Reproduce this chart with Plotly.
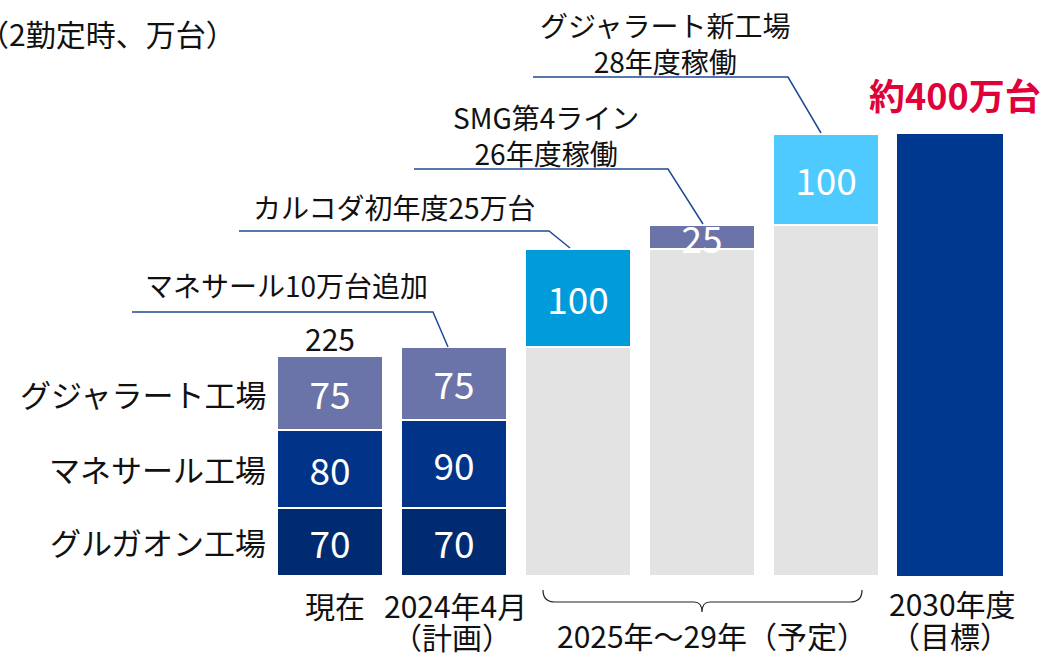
import plotly.graph_objects as go

W, H = 1045, 653
FONT = "Noto Sans CJK JP"

# ---- data (万台, 2勤定時) ----
current_x = [0, 1]
current_names = ["グルガオン工場", "マネサール工場", "グジャラート工場"]
gurgaon = [70, 70]
manesar = [80, 90]
gujarat = [75, 75]

future_x = [2, 3, 4]
future_base = [235, 335, 360]
future_add = [100, 25, 93]
future_add_labels = ["100", "25", "100"]

target_x = [5]
target_2030 = [453]
target_label = "約400万台"

callouts = [
    "マネサール10万台追加",
    "カルコダ初年度25万台",
    "SMG第4ライン<br>26年度稼働",
    "グジャラート新工場<br>28年度稼働",
]

# ---- colours ----
C_GURGAON = "#012B70"
C_MANESAR = "#013388"
C_GUJARAT = "#6B74A8"
C_GRAY = "#E3E3E3"
C_ADD = ["#009BDA", "#6B74A8", "#4FCAFF"]
C_TARGET = "#00388F"
C_LINE = "#1F4A96"

# pixel helpers (the plot area fills the whole page)
X0, STEP = 330, 124
Y0, PX_PER_UNIT = 576, 0.976


def px(x):
    return x / W


def py(y):
    return 1 - y / H


bar_w = 106 / STEP
seg_line = dict(color="white", width=2)
seg_text = dict(color="white", size=37, family=FONT)

fig = go.Figure()

for vals, col in [(gurgaon, C_GURGAON), (manesar, C_MANESAR), (gujarat, C_GUJARAT)]:
    fig.add_trace(go.Bar(
        x=current_x, y=vals, width=bar_w,
        marker=dict(color=col, line=seg_line),
        text=[str(v) for v in vals], textposition="inside",
        insidetextanchor="middle", textangle=0, constraintext="none",
        textfont=seg_text, hoverinfo="skip",
    ))

fig.add_trace(go.Bar(
    x=future_x, y=future_base, width=bar_w,
    marker=dict(color=C_GRAY, line=seg_line), hoverinfo="skip",
))
fig.add_trace(go.Bar(
    x=future_x, y=future_add, width=bar_w,
    marker=dict(color=C_ADD, line=seg_line),
    text=future_add_labels, textposition="inside",
    insidetextanchor="middle", textangle=0, constraintext="none",
    textfont=seg_text, hoverinfo="skip",
))
fig.add_trace(go.Bar(
    x=target_x, y=target_2030, width=bar_w,
    marker=dict(color=C_TARGET, line=dict(width=0)), hoverinfo="skip",
))

ann = []

# unit note (cut off at the left edge, like the source slide)
ann.append(dict(text="（2勤定時、万台）", x=px(238), y=py(33), xref="paper", yref="paper",
                xanchor="right", yanchor="middle", showarrow=False,
                font=dict(size=30, color="#111", family=FONT)))

# factory row labels, aligned to the middle of each segment of the first bar
mids = []
acc = 0
for vals in (gurgaon, manesar, gujarat):
    mids.append(acc + vals[0] / 2)
    acc += vals[0]
for name, m in zip(current_names, mids):
    ann.append(dict(text=name, x=px(268), y=m, xref="paper", yref="y",
                    xanchor="right", yanchor="middle", showarrow=False,
                    font=dict(size=31, color="#111", family=FONT)))

# total on the first bar
ann.append(dict(text=str(gurgaon[0] + manesar[0] + gujarat[0]), x=current_x[0],
                y=gurgaon[0] + manesar[0] + gujarat[0], xref="x", yref="y",
                yanchor="bottom", yshift=-6, showarrow=False,
                font=dict(size=30, color="#111", family=FONT)))

# target label
ann.append(dict(text=f"<b>{target_label}</b>", x=px(955), y=py(94), xref="paper", yref="paper",
                xanchor="center", yanchor="middle", showarrow=False,
                font=dict(size=36, color="#E0003A", family=FONT)))

# callout texts
callout_pos = [(286, 285), (394, 207), (546, 135), (665, 43)]
for txt, (cx, cy) in zip(callouts, callout_pos):
    ann.append(dict(text=txt, x=px(cx), y=py(cy), xref="paper", yref="paper",
                    xanchor="center", yanchor="middle", showarrow=False,
                    font=dict(size=28, color="#111", family=FONT)))

# category labels under the bars
bottom = [
    ("現在", 335, 605), ("2024年4月", 455, 605), ("（計画）", 452, 636),
    ("2025年〜29年（予定）", 712, 635), ("2030年度", 952, 603), ("（目標）", 950, 635),
]
for txt, cx, cy in bottom:
    ann.append(dict(text=txt, x=px(cx), y=py(cy), xref="paper", yref="paper",
                    xanchor="center", yanchor="middle", showarrow=False,
                    font=dict(size=30, color="#111", family=FONT)))

# leader lines: (start x, horizontal y, bend x, end x, end y)
leaders = [
    (132, 312, 433, 448, 347),
    (239, 231, 549, 570, 248),
    (414, 169, 668, 703, 224),
    (533, 77, 788, 821, 133),
]
shapes = []
for x1, yh, xb, xe, ye in leaders:
    path = (f"M {px(x1)} {py(yh)} L {px(xb)} {py(yh)} L {px(xe)} {py(ye)}")
    shapes.append(dict(type="path", path=path, xref="paper", yref="paper",
                       line=dict(color=C_LINE, width=1.5)))

# brace under the 2025-29 bars
bl, br, bt, bm, btip, bc = 543, 862, 590, 602, 612, 702
brace = (f"M {px(bl)} {py(bt)} Q {px(bl)} {py(bm)} {px(bl + 12)} {py(bm)} "
         f"L {px(bc - 8)} {py(bm)} Q {px(bc)} {py(bm)} {px(bc)} {py(btip)} "
         f"Q {px(bc)} {py(bm)} {px(bc + 8)} {py(bm)} "
         f"L {px(br - 12)} {py(bm)} Q {px(br)} {py(bm)} {px(br)} {py(bt)}")
shapes.append(dict(type="path", path=brace, xref="paper", yref="paper",
                   line=dict(color="#222", width=1.2)))

fig.update_layout(
    width=W, height=H,
    barmode="stack",
    showlegend=False,
    plot_bgcolor="white", paper_bgcolor="white",
    margin=dict(l=0, r=0, t=0, b=0),
    xaxis=dict(range=[(0 - X0) / STEP, (W - X0) / STEP], visible=False, fixedrange=True),
    yaxis=dict(range=[-(H - Y0) / PX_PER_UNIT, Y0 / PX_PER_UNIT], visible=False, fixedrange=True),
    uniformtext=dict(minsize=37, mode="show"),
    annotations=ann,
    shapes=shapes,
    font=dict(family=FONT),
)

fig.write_html("out.html", config={"displayModeBar": False},
               post_script="document.body.style.margin='0';document.body.style.overflow='hidden';")
